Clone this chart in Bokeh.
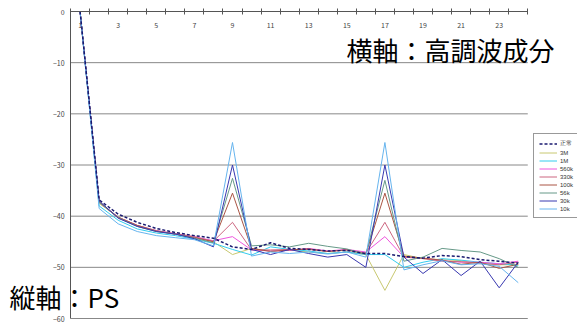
from bokeh.plotting import figure
from bokeh.models import Range1d, FixedTicker, Legend, LegendItem, Label, ColumnDataSource
from bokeh.embed import file_html
from bokeh.resources import INLINE

harmonics = list(range(1, 25))
x_tick_labels = [1, 3, 5, 7, 9, 11, 13, 15, 17, 19, 21, 23]
y_ticks = [0, -10, -20, -30, -40, -50, -60]

normal = [0, -36.8, -39.6, -41.2, -42.4, -43.2, -43.8, -44.3, -46.0, -46.5, -45.2, -46.3,
          -46.5, -46.8, -46.7, -47.3, -47.3, -47.9, -48.2, -47.7, -47.9, -48.5, -48.8, -49.2]
s_3M = [0, -37.5, -40.2, -41.8, -42.8, -43.4, -44.0, -45.0, -47.5, -46.3, -46.8, -46.6,
        -47.0, -47.3, -47.0, -47.5, -54.5, -47.5, -48.3, -48.5, -48.7, -49.3, -49.5, -49.5]
s_1M = [0, -38.0, -40.8, -42.5, -43.3, -43.8, -44.5, -45.3, -46.5, -47.6, -46.0, -46.5,
        -46.8, -47.3, -47.0, -47.5, -47.5, -50.0, -49.0, -48.3, -48.6, -49.0, -49.3, -49.6]
s_560k = [0, -37.3, -40.2, -41.8, -42.8, -43.4, -44.0, -44.8, -44.0, -46.6, -46.8, -46.7,
          -46.3, -46.8, -46.5, -47.0, -44.0, -48.0, -48.2, -48.7, -49.0, -49.0, -49.3, -48.8]
s_330k = [0, -37.3, -40.3, -41.9, -42.9, -43.5, -44.1, -44.9, -41.2, -46.6, -46.6, -46.5,
          -46.5, -46.9, -46.6, -47.2, -41.2, -48.0, -48.3, -48.8, -48.9, -49.2, -49.5, -49.0]
s_100k = [0, -37.2, -40.2, -41.8, -42.9, -43.5, -44.2, -45.0, -35.5, -46.3, -46.9, -46.6,
          -46.4, -46.9, -46.6, -47.4, -35.5, -47.8, -48.2, -48.6, -49.4, -49.0, -50.2, -49.4]
s_56k = [0, -37.3, -40.3, -42.0, -43.0, -43.5, -44.3, -45.2, -32.6, -45.8, -45.6, -46.0,
         -45.3, -45.9, -46.4, -47.5, -33.0, -48.8, -48.0, -46.3, -46.7, -47.0, -48.3, -50.0]
s_30k = [0, -37.0, -40.4, -42.0, -43.0, -43.5, -44.4, -46.0, -30.0, -46.5, -47.5, -46.5,
         -47.3, -48.0, -47.5, -50.0, -30.0, -48.0, -51.2, -48.5, -51.6, -48.8, -54.0, -49.0]
s_10k = [0, -38.5, -41.5, -43.0, -43.8, -44.2, -44.6, -45.8, -25.6, -47.8, -47.0, -47.3,
         -47.0, -47.4, -47.0, -48.0, -25.6, -50.5, -49.5, -48.7, -49.5, -49.3, -49.8, -53.0]

series_names = ["正常", "3M", "1M", "560k", "330k", "100k", "56k", "30k", "10k"]
series_values = [normal, s_3M, s_1M, s_560k, s_330k, s_100k, s_56k, s_30k, s_10k]
series_colors = ["#1a1a70", "#c8c870", "#33ccee", "#ee55dd", "#cc6680", "#aa5544",
                 "#669988", "#3838b0", "#66b4ee"]

FONT = "Noto Sans CJK JP"

x_lo = harmonics[0] - 0.5
x_hi = harmonics[-1] + 0.5

# frame covers the whole figure; axes are drawn at fixed data locations
p = figure(width=577, height=322, output_backend="svg", toolbar_location=None,
           x_range=Range1d(-3.178, 27.11), y_range=Range1d(-60.78, 2.15),
           x_axis_location="above",
           min_border_left=0, min_border_right=0, min_border_top=0, min_border_bottom=0)
p.outline_line_color = None
p.background_fill_color = "white"
p.xgrid.visible = False
p.ygrid.visible = False

# horizontal grid lines, limited to the category span
p.segment(x0=[x_lo] * (len(y_ticks) - 1), x1=[x_hi] * (len(y_ticks) - 1),
          y0=y_ticks[1:], y1=y_ticks[1:], line_color="#888888", line_width=1)

# x axis at y = 0, labels under the line
xa = p.xaxis[0]
xa.fixed_location = 0
xa.bounds = (x_lo, x_hi)
xa.ticker = FixedTicker(ticks=x_tick_labels, minor_ticks=[h - 0.5 for h in harmonics] + [x_hi])
xa.major_tick_line_color = None
xa.major_tick_in = 0
xa.major_tick_out = 0
xa.minor_tick_in = 3
xa.minor_tick_out = 3
xa.minor_tick_line_color = "#555555"
xa.axis_line_color = "#555555"
xa.major_label_standoff = -19
xa.major_label_text_font = FONT
xa.major_label_text_font_size = "7px"
xa.major_label_text_color = "#444444"

ya = p.yaxis[0]
ya.fixed_location = x_lo
ya.bounds = (y_ticks[-1], 0)
ya.ticker = FixedTicker(ticks=y_ticks)
ya.major_tick_line_color = None
ya.major_tick_in = 0
ya.major_tick_out = 0
ya.minor_tick_line_color = None
ya.axis_line_color = "#555555"
ya.major_label_standoff = 6
ya.major_label_text_font = FONT
ya.major_label_text_font_size = "7px"
ya.major_label_text_color = "#444444"

renderers = []
for name, vals, col in zip(series_names, series_values, series_colors):
    if name == "正常":
        continue
    src = ColumnDataSource(dict(x=harmonics, y=vals))
    r = p.line("x", "y", source=src, line_color=col, line_width=1)
    renderers.append((name, r))

src_n = ColumnDataSource(dict(x=harmonics, y=normal))
rn = p.line("x", "y", source=src_n, line_color=series_colors[0], line_width=1.5, line_dash="3 2")
renderers.insert(0, ("正常", rn))

legend = Legend(items=[LegendItem(label=n, renderers=[r]) for n, r in renderers],
                location=(533, 104), label_text_font="Liberation Sans",
                label_text_font_size="6px", label_text_color="#333333",
                label_height=7, glyph_height=7, glyph_width=18, spacing=1,
                padding=5, margin=0, label_standoff=3,
                border_line_color="#333333", border_line_width=1,
                background_fill_color="white")
p.add_layout(legend)

p.add_layout(Label(x=14.98, y=-7.5, text="横軸：高調波成分", text_font=FONT,
                   text_font_size="26px", text_color="black",
                   text_align="left", text_baseline="middle"))
p.add_layout(Label(x=-2.7, y=-55.7, text="縦軸：PS", text_font=FONT,
                   text_font_size="26px", text_color="black",
                   text_align="left", text_baseline="middle"))

open("out.html", "w").write(file_html(p, INLINE))
